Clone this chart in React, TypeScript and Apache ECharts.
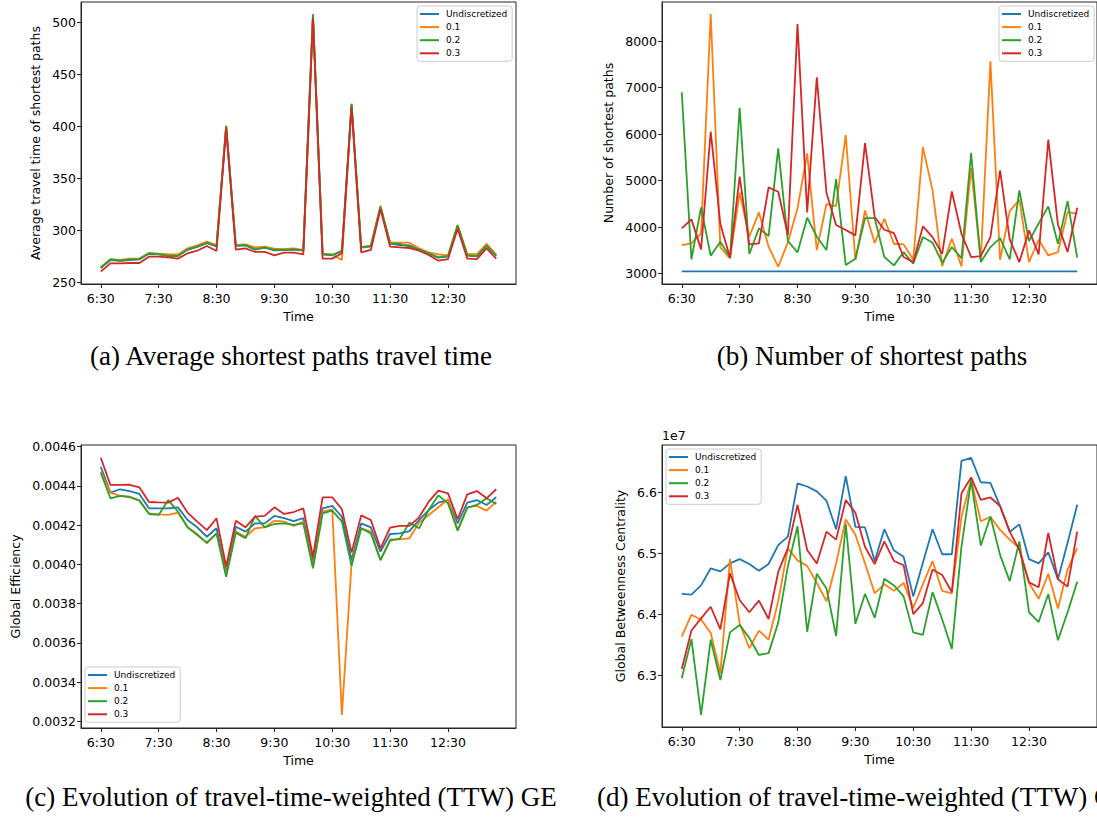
import React, { useEffect, useRef } from 'react';
import * as echarts from 'echarts';

const SERIES_NAMES = ['Undiscretized', '0.1', '0.2', '0.3'];
const COLORS = ['#1f77b4', '#ff7f0e', '#2ca02c', '#d62728'];

const TIMES = ['6:30','6:40','6:50','7:00','7:10','7:20','7:30','7:40','7:50','8:00','8:10','8:20','8:30','8:40','8:50','9:00','9:10','9:20','9:30','9:40','9:50','10:00','10:10','10:20','10:30','10:40','10:50','11:00','11:10','11:20','11:30','11:40','11:50','12:00','12:10','12:20','12:30','12:40','12:50','13:00','13:10','13:20'];
const X_TICK_LABELS = ['6:30', '7:30', '8:30', '9:30', '10:30', '11:30', '12:30'];

// (a) Average travel time of shortest paths
const A_TICKS = [250, 300, 350, 400, 450, 500];
const A_UND = [263.8, 271.5, 270.7, 271.5, 272.0, 277.5, 276.8, 275.8, 275.5, 281.3, 284.0, 287.6, 284.5, 399.8, 285.0, 285.5, 281.5, 283.3, 280.8, 281.0, 281.4, 280.5, 507.2, 276.9, 276.0, 280.0, 421.0, 283.4, 284.6, 322.3, 287.2, 285.9, 285.6, 281.5, 277.5, 273.8, 275.0, 304.4, 275.7, 275.0, 285.0, 275.7];
const A_01 = [264.5, 272.3, 271.5, 272.8, 273.0, 278.3, 277.6, 277.0, 276.8, 282.7, 285.5, 289.1, 285.5, 400.8, 286.0, 286.5, 283.7, 284.3, 282.5, 281.8, 282.7, 281.2, 507.0, 277.6, 276.8, 271.5, 422.0, 284.0, 285.3, 323.7, 288.1, 288.1, 288.1, 282.7, 278.8, 276.9, 275.8, 305.2, 277.2, 277.2, 286.9, 276.5];
const A_02 = [264.1, 272.0, 271.0, 271.8, 272.4, 277.9, 277.2, 275.3, 275.3, 281.7, 284.3, 288.1, 284.9, 400.3, 285.3, 285.9, 281.7, 283.7, 281.1, 281.4, 281.7, 280.8, 507.7, 277.2, 276.3, 280.4, 421.5, 283.7, 284.9, 322.8, 287.5, 286.9, 284.3, 281.7, 277.9, 274.0, 275.3, 304.8, 276.0, 275.3, 285.3, 276.0];
const A_03 = [260.3, 268.3, 268.3, 268.6, 268.6, 274.7, 274.7, 274.0, 272.8, 277.9, 280.4, 285.0, 280.1, 398.1, 281.4, 282.7, 279.2, 279.2, 276.0, 278.5, 278.5, 276.9, 503.8, 272.8, 272.8, 277.9, 418.9, 278.8, 281.1, 320.2, 284.3, 283.7, 283.0, 280.4, 276.3, 270.8, 272.4, 301.6, 272.8, 272.4, 282.7, 272.8];

// (b) Number of shortest paths
const B_TICKS = [3000, 4000, 5000, 6000, 7000, 8000];
const B_UND = [3050, 3050, 3050, 3050, 3050, 3050, 3050, 3050, 3050, 3050, 3050, 3050, 3050, 3050, 3050, 3050, 3050, 3050, 3050, 3050, 3050, 3050, 3050, 3050, 3050, 3050, 3050, 3050, 3050, 3050, 3050, 3050, 3050, 3050, 3050, 3050, 3050, 3050, 3050, 3050, 3050, 3050];
const B_01 = [3616, 3652, 3867, 8580, 3566, 3330, 4740, 3795, 4318, 3580, 3150, 3673, 4404, 5586, 3508, 4497, 4454, 5980, 3294, 4360, 3658, 4181, 3644, 3630, 3301, 5720, 4790, 3164, 3752, 3157, 5270, 3286, 7562, 3301, 4345, 4590, 3250, 3730, 3393, 3465, 4324, 4289];
const B_02 = [6900, 3308, 4425, 3387, 3688, 3351, 6567, 3423, 3974, 3809, 5693, 3702, 3458, 4203, 3795, 3508, 5034, 3186, 3322, 4196, 4196, 3358, 3179, 3465, 3215, 3787, 3666, 3236, 3572, 3336, 5591, 3250, 3572, 3765, 3307, 4790, 3701, 4080, 4446, 3644, 4560, 3344];
const B_03 = [3974, 4168, 3523, 6051, 4067, 3344, 5084, 3630, 3652, 4855, 4762, 3831, 8365, 4318, 7219, 4740, 4046, 3938, 3823, 5806, 4217, 3945, 3873, 3358, 3250, 4016, 3787, 3430, 4768, 3859, 3358, 3379, 3787, 5220, 3737, 3250, 3930, 3415, 5879, 4059, 3465, 4418];

// (c) Global Efficiency
const C_TICKS = [0.0032, 0.0034, 0.0036, 0.0038, 0.0040, 0.0042, 0.0044, 0.0046];
const C_UND = [0.004498, 0.004366, 0.004383, 0.004374, 0.004359, 0.004286, 0.004286, 0.004286, 0.004291, 0.004226, 0.004189, 0.004141, 0.004184, 0.003958, 0.004192, 0.004167, 0.004209, 0.004209, 0.004247, 0.004236, 0.004221, 0.004236, 0.004014, 0.004286, 0.004298, 0.004243, 0.004022, 0.004209, 0.004189, 0.004065, 0.004155, 0.004158, 0.004170, 0.004226, 0.004277, 0.004315, 0.004328, 0.004209, 0.004315, 0.004328, 0.004303, 0.004342];
const C_01 = [0.004473, 0.004366, 0.004349, 0.004342, 0.004328, 0.004260, 0.004255, 0.004252, 0.004264, 0.004189, 0.004155, 0.004107, 0.004158, 0.003946, 0.004167, 0.004141, 0.004184, 0.004189, 0.004223, 0.004218, 0.004196, 0.004218, 0.003988, 0.004269, 0.004281, 0.003232, 0.004005, 0.004184, 0.004167, 0.004022, 0.004128, 0.004128, 0.004133, 0.004213, 0.004252, 0.004291, 0.004332, 0.004175, 0.004291, 0.004298, 0.004274, 0.004320];
const C_02 = [0.004467, 0.004337, 0.004349, 0.004345, 0.004325, 0.004257, 0.004252, 0.004328, 0.004269, 0.004189, 0.004150, 0.004111, 0.004158, 0.003937, 0.004162, 0.004133, 0.004247, 0.004189, 0.004206, 0.004209, 0.004201, 0.004209, 0.003980, 0.004260, 0.004274, 0.004218, 0.003993, 0.004184, 0.004158, 0.004022, 0.004121, 0.004131, 0.004213, 0.004184, 0.004277, 0.004352, 0.004311, 0.004172, 0.004289, 0.004303, 0.004337, 0.004308];
const C_03 = [0.004544, 0.004405, 0.004405, 0.004406, 0.004393, 0.004318, 0.004316, 0.004315, 0.004340, 0.004264, 0.004218, 0.004175, 0.004235, 0.003988, 0.004223, 0.004189, 0.004243, 0.004247, 0.004291, 0.004257, 0.004267, 0.004286, 0.004039, 0.004342, 0.004342, 0.004281, 0.004060, 0.004250, 0.004226, 0.004082, 0.004187, 0.004196, 0.004196, 0.004240, 0.004320, 0.004376, 0.004362, 0.004230, 0.004357, 0.004374, 0.004337, 0.004383];

// (d) Global Betweenness Centrality (in units of 1e7)
const D_TICKS = [6.3, 6.4, 6.5, 6.6];
const D_UND = [6.434, 6.433, 6.448, 6.476, 6.471, 6.484, 6.491, 6.483, 6.472, 6.483, 6.514, 6.528, 6.615, 6.610, 6.602, 6.587, 6.540, 6.627, 6.544, 6.543, 6.488, 6.540, 6.505, 6.495, 6.430, 6.485, 6.540, 6.499, 6.499, 6.652, 6.657, 6.617, 6.616, 6.578, 6.536, 6.548, 6.491, 6.484, 6.502, 6.458, 6.518, 6.580];
const D_01 = [6.364, 6.400, 6.392, 6.370, 6.304, 6.491, 6.386, 6.345, 6.374, 6.359, 6.422, 6.509, 6.489, 6.480, 6.452, 6.422, 6.484, 6.556, 6.531, 6.484, 6.435, 6.450, 6.439, 6.452, 6.411, 6.450, 6.488, 6.439, 6.435, 6.560, 6.621, 6.553, 6.560, 6.539, 6.523, 6.509, 6.452, 6.426, 6.467, 6.410, 6.474, 6.509];
const D_02 = [6.296, 6.360, 6.236, 6.359, 6.293, 6.371, 6.383, 6.362, 6.334, 6.337, 6.387, 6.479, 6.545, 6.372, 6.467, 6.443, 6.365, 6.549, 6.385, 6.434, 6.395, 6.459, 6.448, 6.430, 6.371, 6.367, 6.437, 6.392, 6.344, 6.512, 6.620, 6.513, 6.561, 6.498, 6.455, 6.520, 6.404, 6.388, 6.434, 6.358, 6.404, 6.454];
const D_03 = [6.311, 6.374, 6.394, 6.413, 6.376, 6.468, 6.424, 6.404, 6.423, 6.393, 6.470, 6.509, 6.580, 6.506, 6.484, 6.536, 6.523, 6.588, 6.567, 6.511, 6.483, 6.520, 6.488, 6.481, 6.401, 6.419, 6.474, 6.465, 6.437, 6.599, 6.625, 6.588, 6.592, 6.578, 6.536, 6.506, 6.453, 6.445, 6.534, 6.458, 6.446, 6.536];

const CAPTIONS = [
  '(a) Average shortest paths travel time',
  '(b) Number of shortest paths',
  '(c) Evolution of travel-time-weighted (TTW) GE',
  '(d) Evolution of travel-time-weighted (TTW) GBC',
];

const FONT = 'DejaVu Sans';
const AXIS_COLOR = '#262626';

export default function App() {
  const ref = useRef<HTMLDivElement>(null);

  useEffect(() => {
    if (!ref.current) return;
    const chart = echarts.init(ref.current, undefined, { renderer: 'svg' });

    const xTickValues = X_TICK_LABELS.map((t) => TIMES.indexOf(t));
    const n = TIMES.length;
    const xPad = (n - 1) * 0.05;

    const panels = [
      {
        grid: { left: 81, top: 2, width: 435, height: 282 },
        yMin: 248.4, yMax: 519.6, ticks: A_TICKS, fmt: (v: number) => String(v),
        name: 'Average travel time of shortest paths', nameGap: 39,
        data: [A_UND, A_01, A_02, A_03],
        legend: { left: 417, top: 6 },
      },
      {
        grid: { left: 662, top: 2, width: 436, height: 282 },
        yMin: 2779, yMax: 8838, ticks: B_TICKS, fmt: (v: number) => String(v),
        name: 'Number of shortest paths', nameGap: 47,
        data: [B_UND, B_01, B_02, B_03],
        legend: { left: 999, top: 6 },
      },
      {
        grid: { left: 81, top: 445, width: 435, height: 283 },
        yMin: 0.0031658, yMax: 0.0046087, ticks: C_TICKS, fmt: (v: number) => v.toFixed(4),
        name: 'Global Efficiency', nameGap: 59,
        data: [C_UND, C_01, C_02, C_03],
        legend: { left: 85, top: 667 },
      },
      {
        grid: { left: 662, top: 445, width: 436, height: 282 },
        yMin: 6.216, yMax: 6.678, ticks: D_TICKS, fmt: (v: number) => v.toFixed(1),
        name: 'Global Betweenness Centrality', nameGap: 35,
        data: [D_UND, D_01, D_02, D_03],
        legend: { left: 666, top: 449 },
      },
    ];

    const axisText = { fontFamily: FONT, fontSize: 12.5, color: '#000' };

    const option: any = {
      animation: false,
      backgroundColor: '#fff',
      grid: panels.map((p) => ({
        ...p.grid,
        show: true,
        borderColor: AXIS_COLOR,
        borderWidth: 1,
        backgroundColor: 'transparent',
        containLabel: false,
      })),
      xAxis: panels.map((p, i) => ({
        type: 'value',
        gridIndex: i,
        min: -xPad,
        max: n - 1 + xPad,
        name: 'Time',
        nameLocation: 'middle',
        nameGap: 26,
        nameTextStyle: axisText,
        axisLine: { show: true, onZero: false, lineStyle: { color: AXIS_COLOR, width: 1 } },
        axisTick: { show: true, inside: false, length: 4, lineStyle: { color: AXIS_COLOR }, customValues: xTickValues },
        axisLabel: { ...axisText, margin: 8, customValues: xTickValues, formatter: (v: number) => TIMES[Math.round(v)] ?? '' },
        splitLine: { show: false },
      })),
      yAxis: panels.map((p, i) => ({
        type: 'value',
        gridIndex: i,
        min: p.yMin,
        max: p.yMax,
        name: p.name,
        nameLocation: 'middle',
        nameGap: p.nameGap,
        nameTextStyle: axisText,
        axisLine: { show: true, onZero: false, lineStyle: { color: AXIS_COLOR, width: 1 } },
        axisTick: { show: true, inside: false, length: 4, lineStyle: { color: AXIS_COLOR }, customValues: p.ticks },
        axisLabel: { ...axisText, margin: 5, customValues: p.ticks, formatter: (v: number) => p.fmt(v) },
        splitLine: { show: false },
      })),
      legend: panels.map((p) => ({
        data: SERIES_NAMES.map((nm) => ({ name: nm, icon: 'rect' })),
        orient: 'vertical',
        left: p.legend.left,
        top: p.legend.top,
        itemWidth: 19,
        itemHeight: 2,
        itemGap: 3.1,
        padding: [3, 5, 3, 3],
        borderColor: '#cccccc',
        borderWidth: 1,
        borderRadius: 3,
        backgroundColor: 'rgba(255,255,255,0.8)',
        selectedMode: false,
        textStyle: { fontFamily: FONT, fontSize: 9, color: '#000', lineHeight: 10, padding: [0, 0, 0, 2] },
      })),
      series: panels.flatMap((p, pi) =>
        p.data.map((arr, si) => ({
          type: 'line',
          name: SERIES_NAMES[si],
          xAxisIndex: pi,
          yAxisIndex: pi,
          data: arr.map((v, idx) => [idx, v]),
          symbol: 'none',
          showSymbol: false,
          lineStyle: { color: COLORS[si], width: 1.8 },
          itemStyle: { color: COLORS[si] },
          emphasis: { disabled: true },
          z: 2 + si,
        }))
      ),
      graphic: [
        { type: 'text', left: 662, top: 429, style: { text: '1e7', font: `12.5px "${FONT}"`, fill: '#000' } },
        { type: 'text', x: 291, y: 356, style: { text: CAPTIONS[0], font: '27px "Liberation Serif"', fill: '#000', textAlign: 'center', textVerticalAlign: 'middle' } },
        { type: 'text', x: 872, y: 356, style: { text: CAPTIONS[1], font: '27px "Liberation Serif"', fill: '#000', textAlign: 'center', textVerticalAlign: 'middle' } },
        { type: 'text', x: 291, y: 797, style: { text: CAPTIONS[2], font: '27px "Liberation Serif"', fill: '#000', textAlign: 'center', textVerticalAlign: 'middle' } },
        { type: 'text', x: 597, y: 797, style: { text: CAPTIONS[3], font: '27px "Liberation Serif"', fill: '#000', textAlign: 'left', textVerticalAlign: 'middle' } },
      ],
    };

    chart.setOption(option);
    return () => chart.dispose();
  }, []);

  return <div ref={ref} style={{ position: 'absolute', left: 0, top: 0, width: 1097, height: 819 }} />;
}
